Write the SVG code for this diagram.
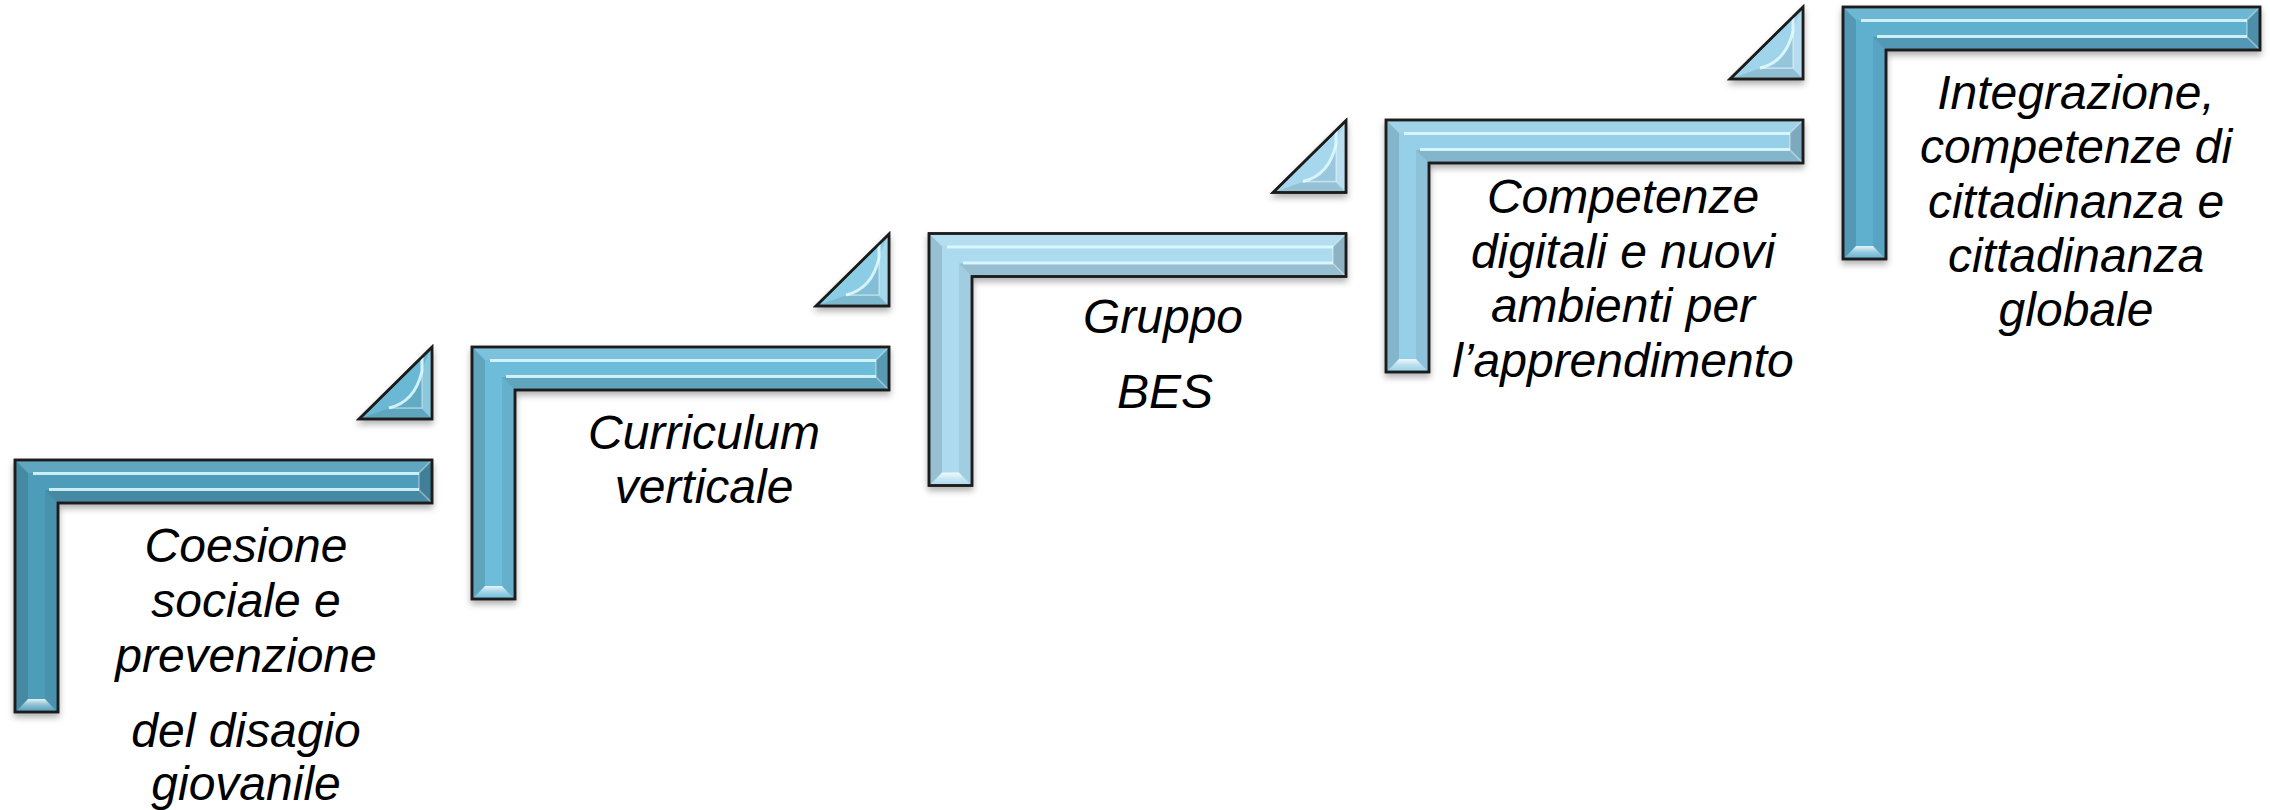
<svg xmlns="http://www.w3.org/2000/svg" xmlns:xlink="http://www.w3.org/1999/xlink" width="2270" height="810" viewBox="0 0 2270 810">
<style>
  .lbl { font-family: "Liberation Sans", Arial, sans-serif; font-style: italic; font-size: 48px; fill: #000; text-anchor: middle; }
  .edge { stroke: #1c1c1c; stroke-width: 2.5; stroke-linejoin: miter; }
  .hl { fill: none; stroke: #e2fbff; stroke-width: 3; opacity: 0.85; }
  .hl2 { fill: none; stroke: #ffffff; stroke-width: 1.5; opacity: 0.4; }
</style>
<defs>
  <filter id="sh" x="-10%" y="-10%" width="120%" height="130%">
    <feDropShadow dx="0" dy="4" stdDeviation="3" flood-color="#000" flood-opacity="0.3"/>
  </filter>
  <linearGradient id="endg" x1="0" y1="0" x2="0" y2="1">
    <stop offset="0" stop-color="#ffffff" stop-opacity="0.85"/>
    <stop offset="0.5" stop-color="#ffffff" stop-opacity="0.35"/>
    <stop offset="1" stop-color="#ffffff" stop-opacity="0.05"/>
  </linearGradient>
  <g id="Lshape">
    <path class="edge" d="M0,0H417V43H43V252H0Z"/>
    <polygon points="0,0 417,0 404,13 13,13" fill="#fff" opacity="0.10"/>
    <polygon points="0,0 13,13 13,239 0,252" fill="#000" opacity="0.12"/>
    <polygon points="417,0 417,43 404,30 404,13" fill="#000" opacity="0.18"/>
    <polygon points="43,43 417,43 404,30 30,30" fill="#000" opacity="0.12"/>
    <polygon points="43,43 43,252 30,239 30,30" fill="#000" opacity="0.06"/>
    <polygon points="2,251 41,251 30,239 13,239" fill="url(#endg)"/>
    <path class="hl" d="M18,13.5H404M34,29.5H404"/>
    <path class="hl2" d="M404,13L416,1M404,30L416,42M404,13V30"/>
    <path class="edge" fill="none" d="M0,0H417V43H43V252H0Z"/>
  </g>
  <g id="Tshape">
    <path class="edge" d="M73,0V72H0Z"/>
    <polygon points="73,0 73,72 63,62 63,22" fill="#fff" opacity="0.22"/>
    <polygon points="0,72 73,72 63,62 28,62" fill="#000" opacity="0.10"/>
    <path d="M30,61Q56,55 63,24V61Z" fill="#000" opacity="0.07"/>
    <path class="hl" d="M30,61Q56,55 63,24V9"/>
    <path class="hl2" d="M63,24V61H30"/>
    <path class="edge" fill="none" d="M73,0V72H0Z"/>
  </g>
</defs>
<rect width="2270" height="810" fill="#ffffff"/>

<g id="step1">
  <use xlink:href="#Lshape" x="15" y="460" fill="#4e9cb9" filter="url(#sh)"/>
  <text class="lbl" x="246" y="562">Coesione</text>
  <text class="lbl" x="246" y="617">sociale e</text>
  <text class="lbl" x="246" y="672">prevenzione</text>
  <text class="lbl" x="246" y="747">del disagio</text>
  <text class="lbl" x="246" y="800">giovanile</text>
</g>
<g id="riser1">
  <use xlink:href="#Tshape" x="359" y="347" fill="#6bb8d4" filter="url(#sh)"/>
</g>

<g id="step2">
  <use xlink:href="#Lshape" x="472" y="347" fill="#6dbcd9" filter="url(#sh)"/>
  <text class="lbl" x="704" y="449">Curriculum</text>
  <text class="lbl" x="704" y="503">verticale</text>
</g>
<g id="riser2">
  <use xlink:href="#Tshape" x="816" y="234" fill="#8ccde6" filter="url(#sh)"/>
</g>

<g id="step3">
  <use xlink:href="#Lshape" x="929" y="233.5" fill="#acdaef" filter="url(#sh)"/>
  <text class="lbl" x="1163" y="333">Gruppo</text>
  <text class="lbl" x="1165" y="408">BES</text>
</g>
<g id="riser3">
  <use xlink:href="#Tshape" x="1273" y="120.5" fill="#a7d7ed" filter="url(#sh)"/>
</g>

<g id="step4">
  <use xlink:href="#Lshape" x="1386" y="120" fill="#96cfe8" filter="url(#sh)"/>
  <text class="lbl" x="1623" y="213">Competenze</text>
  <text class="lbl" x="1623" y="268">digitali e nuovi</text>
  <text class="lbl" x="1623" y="322">ambienti per</text>
  <text class="lbl" x="1623" y="377">l’apprendimento</text>
</g>
<g id="riser4">
  <use xlink:href="#Tshape" x="1730" y="7" fill="#a0d4eb" filter="url(#sh)"/>
</g>

<g id="step5">
  <use xlink:href="#Lshape" x="1843" y="7" fill="#5eafcf" filter="url(#sh)"/>
  <text class="lbl" x="2076" y="109">Integrazione,</text>
  <text class="lbl" x="2076" y="163">competenze di</text>
  <text class="lbl" x="2076" y="218">cittadinanza e</text>
  <text class="lbl" x="2076" y="272">cittadinanza</text>
  <text class="lbl" x="2076" y="326">globale</text>
</g>

<g id="connectors"></g>
</svg>
